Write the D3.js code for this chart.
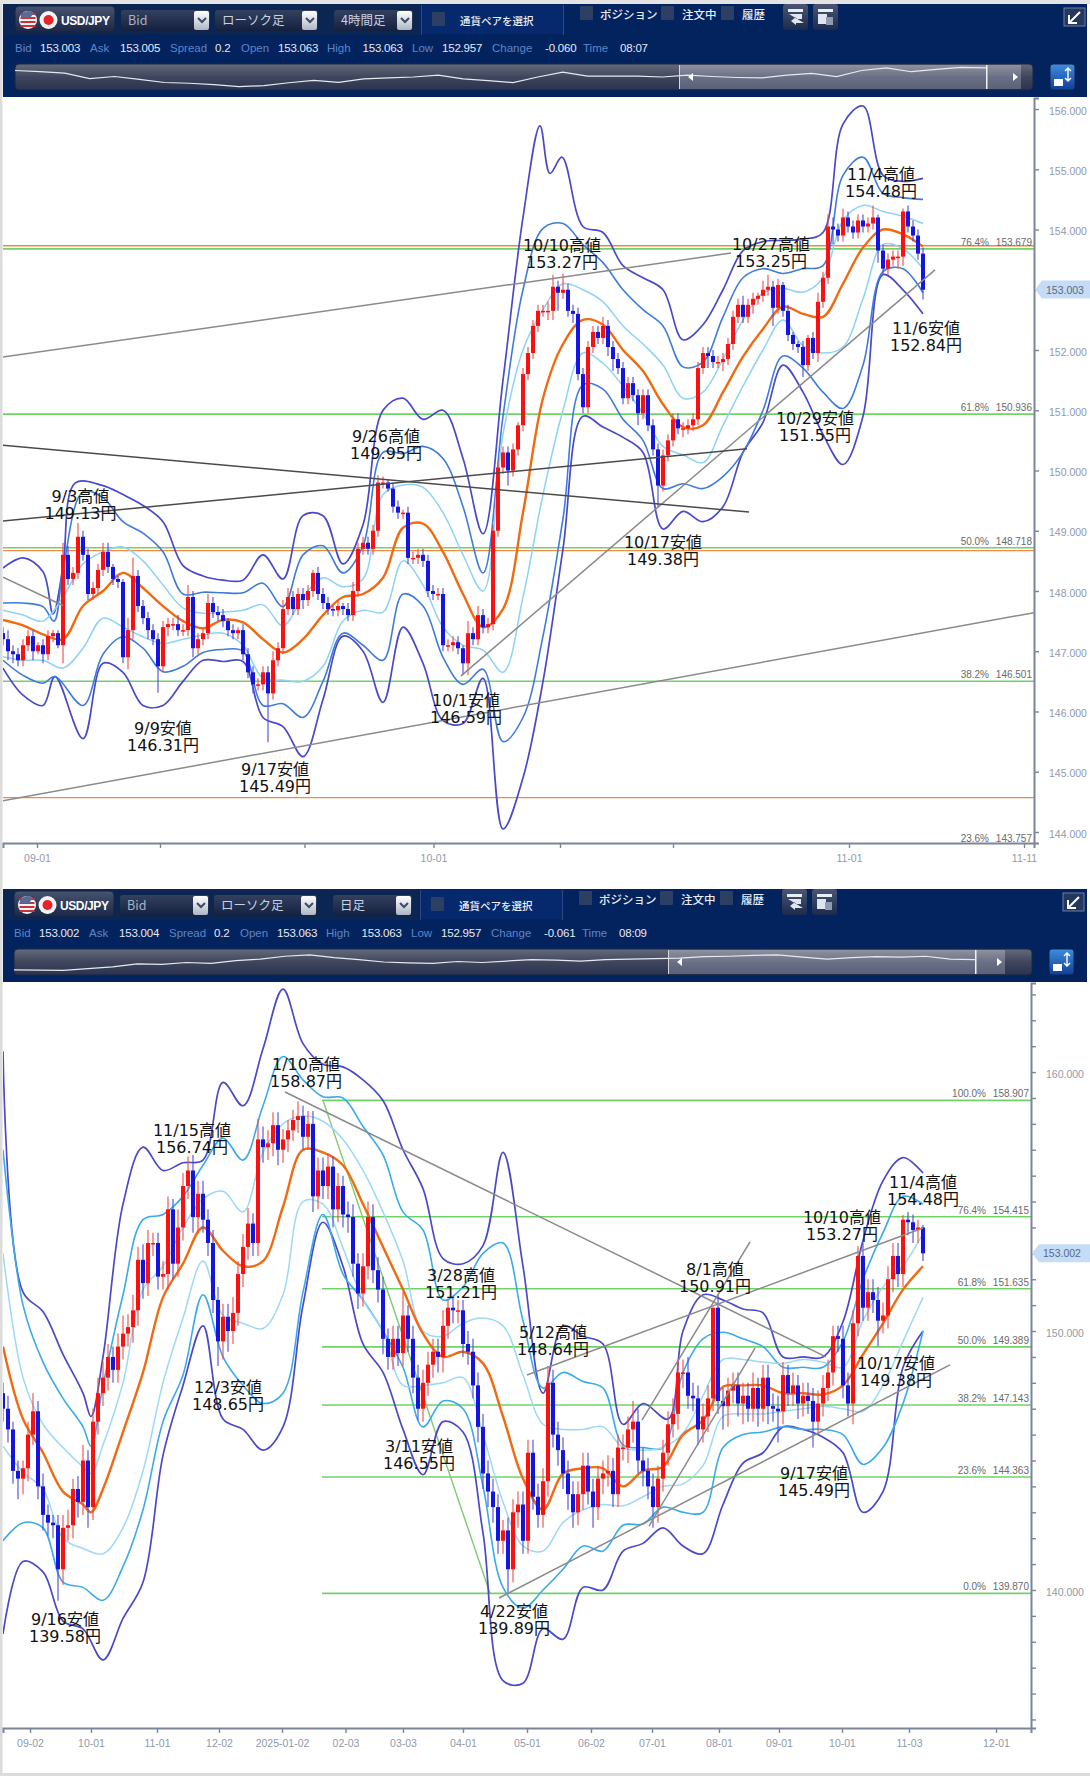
<!DOCTYPE html>
<html><head><meta charset="utf-8">
<style>html,body{margin:0;padding:0;background:#fff}svg{display:block}text{font-family:"Liberation Sans",Arial,sans-serif}</style>
<script src="https://cdn.jsdelivr.net/npm/d3@7"></script></head><body><svg id="c" width="1090" height="1776"></svg>
<script>
// ---------- 4-hour chart ----------
const topOpen0=147.3;
const topClose=[147.2,147,146.95,146.85,147.1,147.25,147,147.1,146.95,147.25,
147.3,147.1,148.6,148.2,148.3,148.9,148.6,147.95,148.05,148.35,
148.65,148.4,148.2,148.15,146.9,147.35,148.25,147.75,147.55,147.35,
147.2,146.75,147.4,147.45,147.45,147.35,147.35,147.9,147.05,147.2,
147.3,147.8,147.65,147.6,147.5,147.35,147.3,147.35,146.95,146.65,
146.45,146.45,146.65,146.3,146.85,147.05,147.7,147.9,147.7,147.95,
147.85,148,148.3,147.95,147.8,147.7,147.68,147.75,147.7,147.6,
148,148.7,148.8,148.7,149,149.8,149.8,149.7,149.4,149.3,
149.3,148.55,148.55,148.6,148.5,148,147.95,147.95,147.1,147.1,
147.15,147.05,146.8,147.3,147.2,147.6,147.4,147.45,149,150.05,
150.3,150,150.35,150.75,151.6,151.95,152.4,152.65,152.65,152.65,
153.05,152.95,153,152.65,152.6,151.6,151.05,152.05,152.3,152.2,
152.4,152.05,151.85,151.7,151.2,151.45,151.25,150.95,151.25,150.75,
150.35,149.75,150.25,150.5,150.85,150.7,150.7,150.75,150.85,151.7,
151.95,151.9,151.8,151.8,151.85,152.1,152.55,152.75,152.55,152.75,
152.85,152.9,153,153.05,152.7,153.08,152.65,152.25,152.1,152.05,
151.75,152.2,151.95,152.8,153.2,154.05,154,153.9,154.2,154.05,
153.95,154.15,154.05,154.1,154.2,153.65,153.35,153.5,153.55,153.55,
154.3,154.05,153.9,153.6,153];
const topWickUp=[.1,.15,.1,.1,.1,.1,.1,.05,.1,.1,.05,.05,.2,.15,.1,.23,.1,.1,.1,.1,
.15,.15,.05,.05,.05,.2,.3,.1,.1,.1,.1,.1,.1,.1,.1,.15,.1,.2,.1,.1,
.1,.15,.1,.1,.1,.05,.1,.05,.1,.1,.1,.1,.1,.1,.15,.1,.15,.15,.1,.1,
.1,.1,.05,.1,.1,.1,.05,.1,.05,.1,.15,.1,.1,.1,.1,.12,.1,.05,.1,.1,
.05,.1,.1,.1,.1,.1,.1,.1,.1,.1,.1,.1,.05,.2,.1,.15,.1,.1,.1,.1,
.1,.1,.1,.05,.1,.1,.1,.1,.1,.15,.2,.1,.27,.1,.1,.1,.1,.1,.1,.1,
.15,.1,.1,.1,.1,.1,.1,.1,.1,.1,.1,.1,.1,.1,.1,.1,.1,.1,.1,.1,
.1,.1,.1,.1,.1,.1,.1,.1,.15,.1,.1,.05,.15,.2,.1,.1,.05,.1,.05,.05,
.1,.05,.1,.15,.1,.2,.15,.1,.15,.1,.1,.1,.1,.1,.2,.05,.1,.1,.1,.1,.05,.1,.1,.1,.1];
const topWickDown=[.1,.15,.15,.1,.1,.1,.15,.05,.15,.1,.1,.05,.3,.1,.1,.1,.1,.1,.1,.1,
.1,.1,.1,.1,.1,.2,.15,.1,.1,.15,.1,.44,.1,.15,.1,.1,.1,.1,.15,.1,
.1,.1,.1,.1,.1,.1,.1,.1,.1,.1,.15,.1,.1,.81,.1,.1,.1,.1,.1,.1,
.15,.1,.1,.1,.1,.1,.1,.1,.1,.1,.1,.1,.1,.1,.1,.1,.1,.05,.1,.1,
.1,.1,.1,.1,.1,.1,.1,.1,.1,.1,.1,.1,.2,.2,.1,.1,.1,.1,.1,.1,
.1,.25,.1,.1,.1,.1,.1,.1,.1,.15,.15,.3,.1,.1,.15,.1,.1,.1,.1,.1,
.1,.15,.2,.1,.1,.1,.1,.2,.1,.1,.1,.37,.1,.1,.1,.1,.15,.1,.1,.1,
.1,.2,.1,.1,.15,.1,.1,.1,.1,.1,.15,.1,.1,.1,.3,.1,.1,.1,.1,.1,
.2,.1,.1,.15,.1,.1,.25,.1,.1,.1,.1,.1,.1,.1,.1,.2,.1,.1,.1,.2,.15,.1,.1,.1,.16];
// band values, one every 4 bars
const topU3=[148.38,148.55,148.32,148.4,149.98,149.75,149.6,149.42,149.15,148.42,148.25,148.18,148.18,148.6,148.2,149.25,149.25,148.45,149.1,151,151.2,150.85,151,150.2,148.95,151.5,154.2,155.55,155.2,154.05,153.95,153.4,153.2,153,152.17,152.42,153,153.65,153.8,153.82,153.84,153.95,155.75,156.05,154.9,154.8,154.85];
const topU2=[147.8,147.8,147.74,148.35,149.65,149.55,149.15,148.96,148.65,147.95,147.98,147.97,147.97,148.13,147.74,148.6,148.75,148.3,148.75,150.3,150.28,150.4,150.2,149.4,148.3,150.9,153,154.02,154.1,153.75,153.45,153,152.67,152.4,151.72,151.8,152.55,153.2,153.35,153.27,153.35,153.4,154.9,155.2,154.6,154.53,154.5];
const topU1=[147.68,147.6,147.5,147.9,148.45,148.65,148.73,148.5,148.1,147.72,147.63,147.65,147.68,147.77,147.42,147.9,148.22,148.07,148.2,149.6,149.76,149.72,149.3,148.6,148,150.6,152,152.67,153.1,153,152.8,152.4,152.1,151.75,151.2,151.3,151.85,152.5,152.95,153.02,152.96,153.2,154.15,154.4,154.3,154.22,154.1];
const topMA=[147.52,147.43,147.28,147.2,147.75,148,148.3,148.05,147.75,147.5,147.38,147.52,147.48,147.2,146.98,147.2,147.6,147.9,147.95,148.22,149.05,149.12,148.65,147.95,147.4,147.7,149.3,151.2,152.1,152.5,152.42,152,151.65,151.1,150.72,150.75,151.3,151.89,152.35,152.72,152.6,152.55,153.1,153.7,154,153.92,153.72];
const topL1=[146.91,146.85,146.85,146.72,147.05,147.55,147.4,147.24,147.13,147.2,147.27,147.3,147.1,146.55,146.52,146.5,146.75,147.5,147.68,147.65,148.5,148.1,147.4,147.1,147.02,146.65,147.9,149.6,151,151.95,151.78,151.4,150.95,150.4,150.26,150.13,150.75,151.4,152,152.5,152.07,151.95,152.05,152.85,153.75,153.68,153.35];
const topL2=[146.85,146.6,146.47,146.38,146.1,146.95,147.24,147.05,146.66,146.75,146.98,147.03,147,146.1,146.13,145.9,146.5,147.3,147.1,146.85,147.95,147.75,146.9,146.45,146.7,145.5,145.9,147.25,149.2,151.42,151.35,150.85,150.5,149.7,149.78,149.7,149.9,150.3,151,151.9,151.7,151.3,151.03,151.75,153.3,153.35,152.95];
const topL3=[146.72,146.27,146.1,145.75,145.55,146.8,146.65,146.1,146.1,146.5,146.85,146.83,146.83,145.9,145.75,145.25,146.2,147.25,147,146.15,147.4,146.8,145.85,145.8,146.55,144.05,144.9,146.5,148.7,150.9,150.72,150.55,150.3,149.03,149.32,149.15,149.4,150.3,150.8,151.75,151.3,150.6,150.1,150.9,153.25,153,152.6];
// sharp turns read between the regular band values
const topU3TurnBars=[10,14.4,107.4,109.4,111.8], topU3TurnPrices=[147.62,149.79,155.72,154.93,155.2];
const topU2TurnBars=[10.2], topU2TurnPrices=[147.5];
const topL3TurnBars=[10.4], topL3TurnPrices=[146.58];
const topL2TurnBars=[10.4], topL2TurnPrices=[146.58];
const topLevelsGreen=[153.679,150.936,148.718,146.501];
const topLevelsOrange=[153.73,148.67,144.57];
const topFibLabels=["76.4%","61.8%","50.0%","38.2%","23.6%"];
const topFibValues=[153.679,150.936,148.718,146.501,143.757];
const topTrendFromBar=[-.2,-.6,91.6,0], topTrendFromPrice=[151.88,144.51,146.59,148.23], topTrendToBar=[145.6,206.2,186.4,12], topTrendToPrice=[153.61,147.64,153.33,147.76];
const topDarkFromBar=[-.2,-.2], topDarkFromPrice=[150.42,149.16], topDarkToBar=[149.2,148.8], topDarkToPrice=[149.31,150.36];
const topYTicks=[144,145,146,147,148,149,150,151,152,153,154,155,156];
const topTickBars=[6.8,31.4,60.3,86.1,111.4,134,169.2,204.2];
const topTickLabels=["09-01","","","10-01","","","11-01","11-11"];
const topNoteDates=["9/3高値","9/9安値","9/17安値","9/26高値","10/1安値","10/10高値","10/27高値","11/4高値","11/6安値","10/29安値","10/17安値"];
const topNoteValues=["149.13円","146.31円","145.49円","149.95円","146.59円","153.27円","153.25円","154.48円","152.84円","151.55円","149.38円"];
const topNoteBars=[15.5,32,54.4,76.6,92.6,111.8,153.6,175.6,184.6,162.4,132];
const topNotePrices=[149.58,145.73,145.05,150.57,146.19,153.74,153.76,154.92,152.37,150.87,148.81];
const topOverview=[77,72,66,43,52,40,27,24,18,10,14,26,36,28,42,46,50,58,42,35,27,50,70,54,54,54,50,58,52,48,46,58,65,52,77,88,72,82,90,88];
const topQuote=["153.003","153.005","0.2","153.063","153.063","152.957","-0.060","08:07"];
// ---------- daily chart ----------
const botOpen0=147.6;
const botClose=[147,146.2,144.6,144.3,144.7,146,146.9,144,142.9,142.6,
142.5,140.8,142.4,142.5,143.9,143.4,145,143.2,146.5,147.6,
148.2,149,148.5,149.4,149.9,150.15,150.8,152.75,151.85,153.4,
153.4,152.1,152.2,154.7,152.6,154,155.6,156.2,154.4,155.3,
154.3,153.4,151.2,149.6,150.55,150,150.7,152.2,153.25,154.15,
153.4,157.4,157.1,157.25,157.95,157,157.4,157.75,158.15,158.3,
157.5,158,155.2,156.2,155.6,156.35,154.7,155.6,154.5,154.4,
152.6,151.45,152.5,154.4,152.35,151.6,149.7,149,149.7,149.15,
150.6,149.7,148.2,147,148,148.7,149.2,149,150.2,150.9,
150.8,150.8,149.5,149.2,147.9,146.3,144.5,143.8,143.2,141.9,
142.3,140.8,143,143.3,141.9,145.3,143.6,142.9,144.2,148,
146,145.4,144.5,143.7,143,143.7,144.8,143.8,143.2,144.3,
144.5,144.6,143.7,145.5,145.5,146.2,146.5,145,144.6,144,
143.2,144.3,145.3,146.4,146.8,148.4,148.4,147.5,147.4,146.2,
146.7,147.4,150.9,147.3,147.1,147.7,147.9,147.2,147.5,147,
147.8,147,148.2,147.1,147,146.9,148.3,147.6,147.9,147.2,
147.5,147.3,146.5,147.2,147.8,148.4,149.8,149.7,147.9,147.2,
150.3,152.9,150.9,151.5,151.2,150.4,150.6,152,152.9,152.2,
154.3,154.2,153.9,154,153];
const botWickUp=[.4,.5,.3,.4,.3,.5,.7,.4,.5,.4,.3,.4,.5,.6,.4,.5,.6,.4,.5,.6,
.6,.5,.4,.5,.7,.5,.6,.5,.6,.5,.4,.4,.5,.5,.4,.7,.5,.54,.6,.5,
.5,.4,.5,.5,.5,.5,.6,.5,.5,.6,.4,.8,.5,.5,.5,.5,.4,.4,.4,.57,
.4,.5,.5,.5,.5,.5,.4,.5,.4,.5,.5,.4,.5,.6,.5,.5,.5,.4,.5,.5,
.9,.4,.5,.5,.5,.5,.5,.5,.6,.31,.4,.4,.4,.5,.5,.5,.5,.5,.5,.5,
.4,.5,.5,.5,.5,.5,.5,.5,.5,.64,.5,.5,.5,.5,.5,.5,.5,.5,.5,.5,
.5,.6,.5,.5,.5,.5,.8,.5,.5,.5,.5,.5,.5,.5,.6,.5,.5,.6,.5,.5,
.5,.5,.01,.5,.5,.5,.5,.5,.5,.5,.6,.4,.5,.5,.5,.5,.5,.4,.5,.4,
.5,.5,.5,.5,.5,.5,.4,.4,.5,.5,.5,.37,.5,.5,.5,.5,.5,.5,.5,.5,.18,.3,.3,.3,.1];
const botWickDown=[.5,.5,.5,.8,.6,.5,.4,.5,.6,.5,.5,1.22,.6,.5,.5,.6,.5,.8,.5,.5,
.5,.5,.5,.5,.5,.5,.6,.6,.6,.5,.5,.5,.5,.6,.6,.5,.5,.5,.6,.6,
.5,.5,.5,.95,.7,.8,.5,.5,.5,.5,.5,.5,.6,.5,.5,.6,.5,.5,.4,.5,
.5,.5,.6,.5,.5,.5,.7,.5,.5,.6,.5,.6,.5,.5,.5,.5,.6,.5,.5,.5,
.5,.5,.6,.45,.5,.5,.5,.6,.6,.5,.5,.5,.5,.5,.5,.6,.6,.6,.6,.5,
.5,.91,.5,.6,.5,.5,.5,.5,.5,.6,.5,.6,.6,.6,.6,.5,.6,.5,.8,.5,
.6,.5,.5,.5,.5,.6,.5,.5,.6,.5,.8,.6,.5,.5,.5,.6,.6,.5,.5,.6,
.5,.6,.5,.5,.9,.8,.5,.5,.8,.5,.5,.7,.5,.7,.5,1.2,.5,.5,.5,.6,
.5,.5,1,.5,.5,.5,.5,.5,.5,.5,.8,.5,.5,.5,.5,1,.5,.5,.5,.5,.5,.5,.5,.5,.3];
const botU3=[160.8,151.5,150.75,149.1,147.6,149,154.9,157.1,156.2,156.5,156.6,159.6,158.7,160.9,163.2,161.1,160.3,160.2,159.7,158.9,157,155.5,152.8,152.6,153.3,156.9,152.5,147.6,150.2,149.8,149.5,146.4,147.2,146.9,150,151.4,151.2,150.85,150.7,149,149,149,150.36,153.5,155.8,156.7,156.1];
const botU2=[157,151,148.8,147.4,146.3,147.9,151.4,154.3,154.5,155.2,156.4,157.45,156.6,158.7,160.6,159.7,159.05,159,157.9,156.8,154.6,153.9,151.2,151.7,153,153.4,150.4,147.8,148.4,148.05,147.8,145.6,145.5,145.5,148.4,149.7,149.95,149.7,149.4,148.6,148.6,148.6,149.6,152,153.8,155.2,154.9];
const botU1=[153,148.2,146.4,145.5,144.75,145.6,148,151.6,152.5,154,155.1,155.4,154.6,156.9,158,158.3,158.1,157.4,156.2,154.6,152.7,150,149.8,150.3,150.5,150.2,148.3,146.4,146.2,146.2,146.3,145.5,145.4,145.5,146.05,147.5,148.9,148.9,148.8,148.75,148.9,148.8,148.6,150.4,151.7,152.5,153.77];
const botMA=[149.4,146.6,145.3,143.8,143.3,143.9,146.1,148.4,151.3,152.6,154,153.1,152.5,152.7,154.8,157,156.9,156.4,154.9,153.25,151.6,149.9,149,149.2,148.75,146.7,144.3,143.1,144.5,144.7,144.7,144,144.6,144.76,146,146.55,147.85,147.9,147.9,147.6,147.6,147.55,147.9,149.1,150.3,151.6,152.5];
const botL1=[145.55,144.55,143.9,142,141.6,141.4,142.4,144.6,148,150.5,152.7,150.6,150.3,150.1,151.4,155,154.9,153.2,151.2,150,147.9,147.9,148,148.2,146,143.4,141.7,141.5,142.6,143.1,143.3,143.25,143.6,144,144.1,144.8,146.7,146.8,146.8,146.9,147,147.1,147,146.9,147.9,149.6,151.3];
const botL2=[141.9,142.6,142.4,140.3,140.1,139.6,140.9,143.1,146.5,148.3,151.4,149,147.9,147.2,147.6,151.5,154.5,152.2,151.2,150,148.6,146.3,147.3,147,144,140.1,139.3,140,140.8,141.7,141.5,142.5,142.55,143.2,143,143,145.5,146,146.1,146.3,146.2,146.2,146,144.85,145.5,147.2,150];
const botL3=[138.3,141.1,140.7,138.8,138.5,137.3,138.9,140.3,145.2,147.9,150.2,146.6,146.2,145.4,146.3,151,154.2,152.5,149.5,148.4,146.2,144.45,146.5,146.1,142.2,136.5,136.4,138.5,138.1,140.1,140,141.5,141.8,142.4,141.7,141.4,143.3,144.9,145.3,146.3,146.2,145.9,145.3,143,143.8,148.6,150];
const botU3TurnBars=[17.6,133], botU3TurnPrices=[146.7,146.6];
const botU2TurnBars=[17.6], botU2TurnPrices=[145.55];
const botU1TurnBars=[17.6], botU1TurnPrices=[144.5];
const botMATurnBars=[17.6], botMATurnPrices=[143];
const botLevelsGreen=[158.907,154.415,151.635,149.389,147.143,144.363,139.87];
const botFibLabels=["100.0%","76.4%","61.8%","50.0%","38.2%","23.6%","0.0%"];
const botFibValues=[158.907,154.415,151.635,149.389,147.143,144.363,139.87];
const botFibLineFromBar=64, botFibLineFromPrice=158.907, botFibLineToBar=97.4, botFibLineToPrice=139.87, botLevelFromBar=63.8;
const botTrendFromBar=[56.4,99.2,104.8,127.8,129.2], botTrendFromPrice=[159.23,139.69,148.3,146.56,142.47], botTrendToBar=[164.6,189.4,184,149.4,150.4], botTrendToPrice=[149,148.69,153.98,153.44,149.34];
const botYTicks=d3.range(135,164);
const botYLabelled=[140,150,160];
const botTickBars=[5.4,17.6,30.8,43.2,55.8,68.5,80,92,104.8,117.6,129.8,143.2,155.2,167.8,181.2,198.6];
const botTickLabels=["09-02","10-01","11-01","12-02","2025-01-02","02-03","03-03","04-01","05-01","06-02","07-01","08-01","09-01","10-01","11-03","12-01"];
const botNoteDates=["1/10高値","11/15高値","3/28高値","5/12高値","12/3安値","3/11安値","9/16安値","4/22安値","8/1高値","10/10高値","11/4高値","10/17安値","9/17安値"];
const botNoteValues=["158.87円","156.74円","151.21円","148.64円","148.65円","146.55円","139.58円","139.89円","150.91円","153.27円","154.48円","149.38円","145.49円"];
const botNoteBars=[60.6,37.8,91.6,110,45,83.2,12.4,102.2,142.4,167.8,184,178.6,162.2];
const botNotePrices=[160.31,157.76,152.16,149.96,147.84,145.56,138.88,139.19,152.39,154.4,155.75,148.76,144.52];
const botOverview=[17,16,15,22,30,42,40,48,44,56,62,74,80,68,60,50,46,44,52,48,54,60,58,54,60,62,64,66,72,74,78,80,70,62,68,72,70,74,62,60];
const botQuote=["153.002","153.004","0.2","153.063","153.063","152.957","-0.061","08:09"];
const quoteNames=["Bid","Ask","Spread","Open","High","Low","Change","Time"];

const svg=d3.select("#c");
const defs=svg.append("defs");
function grad(id,stops){const g=defs.append("linearGradient").attr("id",id).attr("x1",0).attr("x2",0).attr("y1",0).attr("y2",1);
 stops.forEach((c,i)=>g.append("stop").attr("offset",i/(stops.length-1)).attr("stop-color",c));}
grad("gBtn",["#47536f","#1a2747"]);grad("gSel",["#33415f","#14203f"]);grad("gOv",["#666b7a","#3f455c","#2a3350"]);grad("gHi",["#8d919f","#6a7086","#5a6178"]);grad("gChev",["#ffffff","#aeb6c4"]);grad("gBlue",["#3f8de0","#0f3f96"]);grad("gIcon",["#4a5672","#1c2a4c"]);
svg.append("rect").attr("width",1090).attr("height",1776).attr("fill","#fff");
svg.append("rect").attr("width",2.5).attr("height",1776).attr("fill","#dcdcdc");
svg.append("rect").attr("y",1773).attr("width",1090).attr("height",3).attr("fill","#dcdcdc");
svg.append("rect").attr("width",1090).attr("height",4).attr("fill","#e4e4e4");
const NAVY="#03235f",JP='"Noto Sans CJK JP",sans-serif';

function header(dy,dx,tf,quote,ov,hiL,hiR,mark){
 const g=svg.append("g").attr("transform",`translate(${dx},${dy})`);
 const rightEnd=1087-dx;
 g.append("rect").attr("x",3-dx).attr("y",4).attr("width",rightEnd-3+dx).attr("height",93).attr("fill",NAVY);
 g.append("rect").attr("x",3-dx).attr("y",4).attr("width",417+dx).attr("height",31).attr("fill","#0c2654");
 g.append("rect").attr("x",15).attr("y",6).attr("width",100).attr("height",26).attr("rx",4).attr("fill","url(#gBtn)").attr("stroke","#16233f");
 const us=g.append("g");us.append("circle").attr("cx",28).attr("cy",20).attr("r",9).attr("fill","#f4f4f4");
 [14,18,22,26].forEach(y=>us.append("rect").attr("x",20.5).attr("y",y-1).attr("width",15).attr("height",2).attr("fill","#c8323c"));
 us.append("path").attr("d","M21,15 A9,9 0 0 1 34,13 L30,18 L21,18Z").attr("fill","#5a6a96");
 g.append("circle").attr("cx",48.5).attr("cy",20).attr("r",9).attr("fill","#f4f4f4");
 g.append("circle").attr("cx",48.5).attr("cy",20).attr("r",5).attr("fill","#e6222a");
 g.append("text").attr("x",61).attr("y",24.5).attr("fill","#fff").attr("font-weight",700).attr("font-size",12).attr("letter-spacing",-.4).text("USD/JPY");
 const sels=[[121,210,"Bid","#a6b2c8"],[215,318,"ローソク足","#c9d2e2"],[334,413,tf,"#c9d2e2"]];
 sels.forEach(s=>{g.append("rect").attr("x",s[0]).attr("y",10).attr("width",s[1]-s[0]).attr("height",21).attr("rx",3).attr("fill","url(#gSel)");
  g.append("text").attr("x",s[0]+7).attr("y",25).attr("fill",s[3]).attr("font-size",12.5).style("font-family",JP).text(s[2]);
  g.append("rect").attr("x",s[1]-16).attr("y",11).attr("width",15).attr("height",19).attr("rx",2).attr("fill","url(#gChev)");
  g.append("path").attr("d",`M${s[1]-12},18 l4,4 l4,-4`).attr("fill","none").attr("stroke","#3c4a66").attr("stroke-width",2);});
 [421,563].forEach(x=>g.append("rect").attr("x",x).attr("y",5).attr("width",1).attr("height",30).attr("fill","#2a4a86"));
 g.append("rect").attr("x",422).attr("y",5).attr("width",141).attr("height",29).attr("fill","#05296c");
 const checks=[[432,24,"通貨ペアを選択",460,10.5],[580,18,"ポジション",600,11.5],[661,18,"注文中",682,11.5],[721,18,"履歴",742,11.5]];
 checks.forEach(c=>{g.append("rect").attr("x",c[0]).attr("y",c[1]-12).attr("width",13).attr("height",14).attr("rx",1).attr("fill","#2d3f63");
  g.append("text").attr("x",c[3]).attr("y",c[1]+1).attr("fill","#e8ecf4").attr("font-size",c[4]).attr("font-weight",500).style("font-family",JP).text(c[2]);});
 [783,813].forEach((x,i)=>{g.append("rect").attr("x",x).attr("y",4).attr("width",25).attr("height",26).attr("rx",3).attr("fill","url(#gIcon)");
  g.append("rect").attr("x",x+5).attr("y",9).attr("width",15).attr("height",3).attr("fill","#e8ecf4");
  if(i===0){g.append("path").attr("d",`M${x+6},14 h13 v5 h-6 v-2 l-5,4 l5,4 v-2 h8`).attr("fill","#dfe5ef");}
  else{g.append("rect").attr("x",x+5).attr("y",14).attr("width",9).attr("height",10).attr("fill","#dfe5ef");g.append("rect").attr("x",x+13).attr("y",17).attr("width",7).attr("height",8).attr("fill","#8f9bb2");}});
 g.append("rect").attr("x",1064).attr("y",8).attr("width",21).attr("height",18).attr("fill","#23375f").attr("stroke","#6f7f9f");
 g.append("path").attr("d","M1080,12 L1070,22 M1069,15 V23 H1077").attr("fill","none").attr("stroke","#fff").attr("stroke-width",2);
 const lx=[15,90,170,241,327,412,492,583], vx=[40,120,215,278,362.5,442,545,620];
 quoteNames.forEach((n,i)=>{g.append("text").attr("x",lx[i]).attr("y",52).attr("fill","#5d85c6").attr("font-size",11.5).text(n);
  g.append("text").attr("x",vx[i]).attr("y",52).attr("fill","#e6eaf2").attr("font-size",11.5).attr("letter-spacing",-.2).text(quote[i]);});
 g.append("rect").attr("x",15).attr("y",64).attr("width",1018).attr("height",26).attr("rx",4).attr("fill","url(#gOv)").attr("stroke","#1b2745");
 g.append("rect").attr("x",hiL).attr("y",65).attr("width",hiR-hiL).attr("height",24).attr("fill","url(#gHi)");
 const ox=d3.scaleLinear().domain([0,ov.length-1]).range([15,mark]),oy=d3.scaleLinear().domain([0,100]).range([89,65]);
 g.append("path").datum(ov).attr("d",d3.line().x((d,i)=>ox(i)).y(d=>oy(d)).curve(d3.curveLinear)).attr("fill","none").attr("stroke","#e6e9f0").attr("stroke-width",1.2);
 g.append("rect").attr("x",mark).attr("y",65).attr("width",1.5).attr("height",24).attr("fill","#f2f2f2");
 g.append("rect").attr("x",hiL).attr("y",65).attr("width",1).attr("height",24).attr("fill","#d8d8d8");
 g.append("path").attr("d",`M${hiL+9},77 l5,-4 v8z`).attr("fill","#fff");
 g.append("path").attr("d",`M${hiR-8},73 l5,4 l-5,4z`).attr("fill","#fff");
 g.append("rect").attr("x",1050).attr("y",64).attr("width",25).attr("height",26).attr("rx",3).attr("fill","url(#gBlue)").attr("stroke","#10224a");
 g.append("rect").attr("x",1054).attr("y",79).attr("width",9).attr("height",7).attr("fill","#fff");
 g.append("path").attr("d","M1068,68 v13 M1065,71 l3,-3 l3,3 M1065,78 l3,3 l3,-3").attr("fill","none").attr("stroke","#fff").attr("stroke-width",1.4);
}
header(0,0,"4時間足",topQuote,topOverview,679,1021,986);
header(885,-1,"日足",botQuote,botOverview,669,1006,976);

function chart(o){
 const x=d3.scaleLinear().domain(o.xDomain).range([3,o.axisX]);
 const y=d3.scaleLinear().domain(o.yDomain).range([o.y1,o.y0]);
 const id="clip"+o.y0;
 defs.append("clipPath").attr("id",id).append("rect").attr("x",3).attr("y",o.y0).attr("width",o.axisX-3).attr("height",o.y1-o.y0);
 const g=svg.append("g").attr("clip-path",`url(#${id})`);
 const lvl=(vals,col,w,from)=>g.selectAll(null).data(vals).enter().append("line").attr("x1",from).attr("x2",o.axisX).attr("y1",d=>y(d)).attr("y2",d=>y(d)).attr("stroke",col).attr("stroke-width",w);
 if(o.orange) lvl(o.orange,"#ef8a48",1.4,3);
 lvl(o.green,"#72d26a",1.6,o.levelFrom===undefined?3:x(o.levelFrom));
 if(o.fibLine) g.append("line").attr("x1",x(o.fibLine[0])).attr("y1",y(o.fibLine[1])).attr("x2",x(o.fibLine[2])).attr("y2",y(o.fibLine[3])).attr("stroke","#7ccb6c").attr("stroke-width",1.4);
 const seg=(t,col,w)=>g.selectAll(null).data(t[0]).enter().append("line").attr("x1",d=>x(d)).attr("y1",(d,i)=>y(t[1][i])).attr("x2",(d,i)=>x(t[2][i])).attr("y2",(d,i)=>y(t[3][i])).attr("stroke",col).attr("stroke-width",w);
 const line=d3.line().x(d=>x(d[0])).y(d=>y(d[1])).curve(d3.curveCatmullRom.alpha(.5));
 o.bands.forEach(b=>{
  const tb=b[3]||[],tp=b[4]||[];
  const pts=b[0].map((v,i)=>[i*4,v]).filter(p=>!tb.some(t=>Math.abs(t-p[0])<1.6));
  tb.forEach((t,i)=>pts.push([t,tp[i]]));
  pts.sort((a,c)=>a[0]-c[0]);
  g.append("path").datum(pts).attr("d",line).attr("fill","none").attr("stroke",b[1]).attr("stroke-width",b[2]).attr("stroke-linejoin","round");});
 const bars=o.close.map((c,i)=>{const op=i?o.close[i-1]:o.open0;return{i,op,c,hi:Math.max(op,c)+o.up[i],lo:Math.min(op,c)-o.down[i]};});
 g.selectAll("line.w").data(bars).enter().append("line").attr("class","w").attr("x1",d=>x(d.i)).attr("x2",d=>x(d.i)).attr("y1",d=>y(d.hi)).attr("y2",d=>y(d.lo)).attr("stroke",d=>d.c>=d.op?"#f04848":"#4a4ad8").attr("stroke-width",1.1);
 g.selectAll("rect.b").data(bars).enter().append("rect").attr("class","b").attr("x",d=>x(d.i)-2).attr("width",4).attr("y",d=>y(Math.max(d.op,d.c))).attr("height",d=>Math.max(1.5,Math.abs(y(d.op)-y(d.c)))).attr("fill",d=>d.c>=d.op?"#ff1010":"#1414e6");
 o.trend.forEach(t=>seg(t[0],t[1],t[2]));
 const yAxis=d3.axisRight(y).tickValues(o.yTicks).tickSize(5).tickPadding(o.yPad).tickFormat(o.yFmt);
 const ya=svg.append("g").attr("transform",`translate(${o.axisX},0)`).call(yAxis);
 ya.selectAll("text").attr("dy","0.5em");
 const xAxis=d3.axisBottom(x).tickValues(o.xTicks).tickSize(5).tickPadding(7).tickFormat((d,i)=>o.xLabels[i]);
 const xa=svg.append("g").attr("transform",`translate(0,${o.y1})`).call(xAxis);
 [ya,xa].forEach(a=>{a.selectAll("path").attr("stroke","#7c8498").attr("stroke-width",2);a.selectAll("line").attr("stroke","#7c8498").attr("stroke-width",1.4);
  a.selectAll("text").attr("fill","#9299a8").attr("font-size",10.5).style("font-family",'"Liberation Sans",sans-serif');});
 o.fibL.forEach((l,i)=>{const yy=Math.min(y(o.fibV[i])-3,o.y1-1);
  svg.append("text").attr("x",o.axisX-2).attr("y",yy).attr("text-anchor","end").attr("fill","#6a6a6a").attr("font-size",10).text(o.fibV[i].toFixed(3));
  svg.append("text").attr("x",o.axisX-45).attr("y",yy).attr("text-anchor","end").attr("fill","#6a6a6a").attr("font-size",10).text(l);});
 const py=y(o.last);
 svg.append("path").datum([[o.axisX+1,py],[o.axisX+8,py-9],[1090,py-9],[1090,py+9],[o.axisX+8,py+9]]).attr("d",d=>d3.line()(d)+"Z").attr("fill","#c4dcf6");
 svg.append("text").attr("x",o.axisX+12).attr("y",py+4).attr("fill","#596a86").attr("font-size",10.5).text(o.lastText);
 o.notes[0].forEach((t,i)=>{const gx=x(o.notes[2][i]),gy=y(o.notes[3][i]);
  const tx=svg.append("text").attr("text-anchor","middle").attr("fill","#111").attr("font-size",16).style("font-family",'"DejaVu Sans","Noto Sans CJK JP",sans-serif');
  tx.append("tspan").attr("x",gx).attr("y",gy+6).text(t);
  tx.append("tspan").attr("x",gx).attr("y",gy+23.3).text(o.notes[1][i]);});
}
const IND="#4a48cb";
chart({xDomain:[0,206.2],axisX:1034,yDomain:[143.817,156.183],y0:98,y1:843,
 open0:topOpen0,close:topClose,up:topWickUp,down:topWickDown,
 bands:[[topU3,IND,1.7,topU3TurnBars,topU3TurnPrices],[topL3,IND,1.7,topL3TurnBars,topL3TurnPrices],[topU2,"#3f7bdc",1.6,topU2TurnBars,topU2TurnPrices],[topL2,"#3f7bdc",1.6,topL2TurnBars,topL2TurnPrices],[topU1,"#8ed2f5",1.5],[topL1,"#8ed2f5",1.5],[topMA,"#f26a10",2.4]],
 green:topLevelsGreen,orange:topLevelsOrange,
 trend:[[[topTrendFromBar,topTrendFromPrice,topTrendToBar,topTrendToPrice],"#8a8a8a",1.5],[[topDarkFromBar,topDarkFromPrice,topDarkToBar,topDarkToPrice],"#4a4a4a",1.5]],
 yTicks:topYTicks,yPad:10,yFmt:d=>d.toFixed(3),xTicks:topTickBars,xLabels:topTickLabels,
 fibL:topFibLabels,fibV:topFibValues,last:153.003,lastText:"153.003",
 notes:[topNoteDates,topNoteValues,topNoteBars,topNotePrices]});
chart({xDomain:[0,205.6],axisX:1031,yDomain:[134.67,163.44],y0:983,y1:1728,
 open0:botOpen0,close:botClose,up:botWickUp,down:botWickDown,
 bands:[[botU3,IND,1.7,botU3TurnBars,botU3TurnPrices],[botL3,IND,1.7],[botU2,"#39aaec",1.6,botU2TurnBars,botU2TurnPrices],[botL2,"#39aaec",1.6],[botU1,"#9bd9f7",1.5,botU1TurnBars,botU1TurnPrices],[botL1,"#9bd9f7",1.5],[botMA,"#f26a10",2.4,botMATurnBars,botMATurnPrices]],
 green:botLevelsGreen,levelFrom:botLevelFromBar,fibLine:[botFibLineFromBar,botFibLineFromPrice,botFibLineToBar,botFibLineToPrice],
 trend:[[[botTrendFromBar,botTrendFromPrice,botTrendToBar,botTrendToPrice],"#8a8a8a",1.5]],
 yTicks:botYTicks,yPad:10,yFmt:d=>botYLabelled.includes(d)?d.toFixed(3):"",xTicks:botTickBars,xLabels:botTickLabels,
 fibL:botFibLabels,fibV:botFibValues,last:153.002,lastText:"153.002",
 notes:[botNoteDates,botNoteValues,botNoteBars,botNotePrices]});
</script></body></html>
